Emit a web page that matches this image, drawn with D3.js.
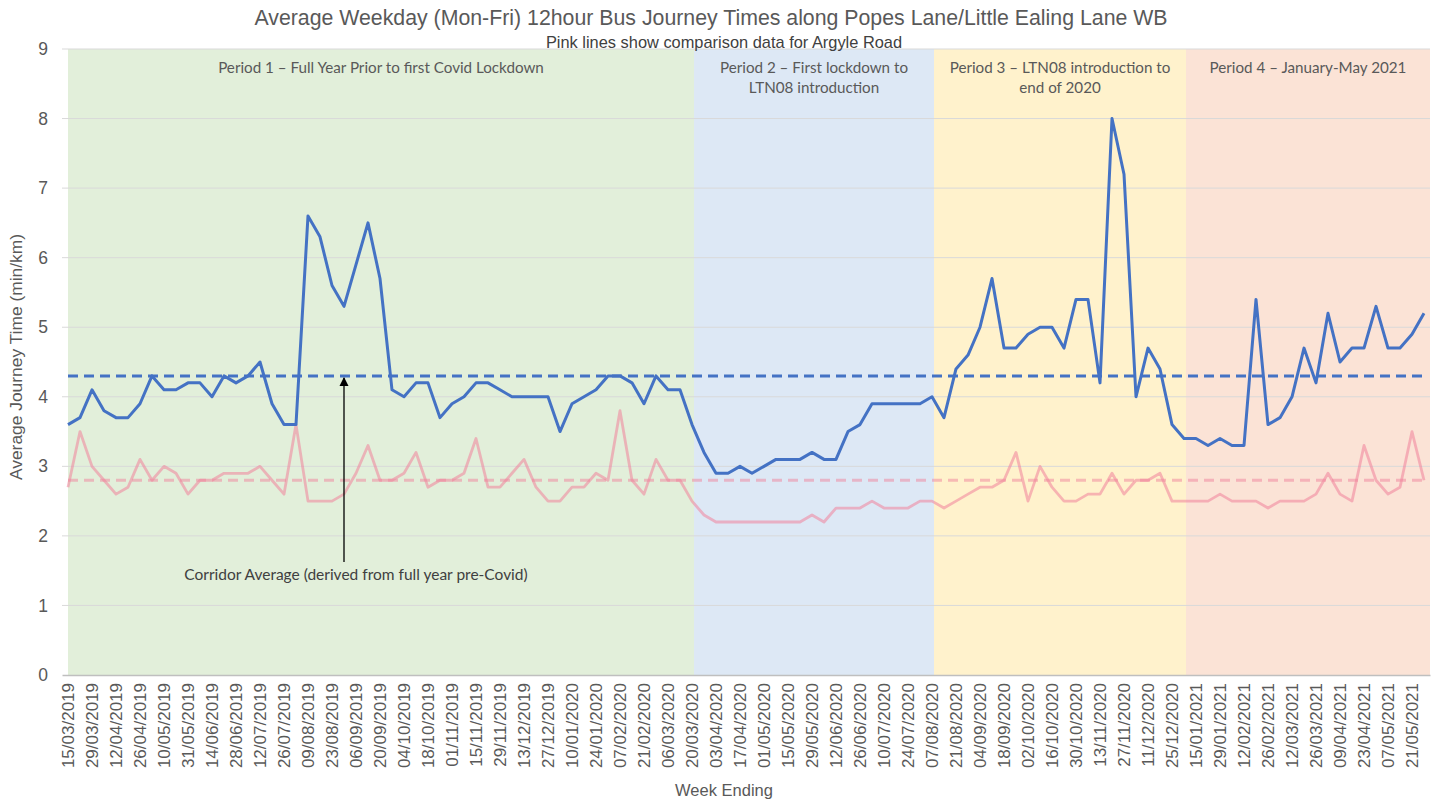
<!DOCTYPE html>
<html>
<head>
<meta charset="utf-8">
<script src="https://cdn.jsdelivr.net/npm/d3@7"></script>
<style>
  body { margin: 0; background: #fff; }
  svg { display: block; }
</style>
</head>
<body>
<div id="chart"></div>
<script>
// Data
const categories = [
  '15/03/2019', '22/03/2019', '29/03/2019', '05/04/2019', '12/04/2019', '19/04/2019', '26/04/2019', '03/05/2019',
  '10/05/2019', '17/05/2019', '31/05/2019', '07/06/2019', '14/06/2019', '21/06/2019', '28/06/2019', '05/07/2019',
  '12/07/2019', '19/07/2019', '26/07/2019', '02/08/2019', '09/08/2019', '16/08/2019', '23/08/2019', '30/08/2019',
  '06/09/2019', '13/09/2019', '20/09/2019', '27/09/2019', '04/10/2019', '11/10/2019', '18/10/2019', '25/10/2019',
  '01/11/2019', '08/11/2019', '15/11/2019', '22/11/2019', '29/11/2019', '06/12/2019', '13/12/2019', '20/12/2019',
  '27/12/2019', '03/01/2020', '10/01/2020', '17/01/2020', '24/01/2020', '31/01/2020', '07/02/2020', '14/02/2020',
  '21/02/2020', '28/02/2020', '06/03/2020', '13/03/2020', '20/03/2020', '27/03/2020', '03/04/2020', '10/04/2020',
  '17/04/2020', '24/04/2020', '01/05/2020', '08/05/2020', '15/05/2020', '22/05/2020', '29/05/2020', '05/06/2020',
  '12/06/2020', '19/06/2020', '26/06/2020', '03/07/2020', '10/07/2020', '17/07/2020', '24/07/2020', '31/07/2020',
  '07/08/2020', '14/08/2020', '21/08/2020', '28/08/2020', '04/09/2020', '11/09/2020', '18/09/2020', '25/09/2020',
  '02/10/2020', '09/10/2020', '16/10/2020', '23/10/2020', '30/10/2020', '06/11/2020', '13/11/2020', '20/11/2020',
  '27/11/2020', '04/12/2020', '11/12/2020', '18/12/2020', '25/12/2020', '08/01/2021', '15/01/2021', '22/01/2021',
  '29/01/2021', '05/02/2021', '12/02/2021', '19/02/2021', '26/02/2021', '05/03/2021', '12/03/2021', '19/03/2021',
  '26/03/2021', '02/04/2021', '09/04/2021', '16/04/2021', '23/04/2021', '30/04/2021', '07/05/2021', '14/05/2021',
  '21/05/2021', '28/05/2021'
];

// Popes Lane/Little Ealing Lane WB (min/km)
const popesLane = [
  3.6, 3.7, 4.1, 3.8, 3.7, 3.7, 3.9, 4.3, 4.1, 4.1, 4.2, 4.2, 4.0, 4.3, 4.2, 4.3,
  4.5, 3.9, 3.6, 3.6, 6.6, 6.3, 5.6, 5.3, 5.9, 6.5, 5.7, 4.1, 4.0, 4.2, 4.2, 3.7,
  3.9, 4.0, 4.2, 4.2, 4.1, 4.0, 4.0, 4.0, 4.0, 3.5, 3.9, 4.0, 4.1, 4.3, 4.3, 4.2,
  3.9, 4.3, 4.1, 4.1, 3.6, 3.2, 2.9, 2.9, 3.0, 2.9, 3.0, 3.1, 3.1, 3.1, 3.2, 3.1,
  3.1, 3.5, 3.6, 3.9, 3.9, 3.9, 3.9, 3.9, 4.0, 3.7, 4.4, 4.6, 5.0, 5.7, 4.7, 4.7,
  4.9, 5.0, 5.0, 4.7, 5.4, 5.4, 4.2, 8.0, 7.2, 4.0, 4.7, 4.4, 3.6, 3.4, 3.4, 3.3,
  3.4, 3.3, 3.3, 5.4, 3.6, 3.7, 4.0, 4.7, 4.2, 5.2, 4.5, 4.7, 4.7, 5.3, 4.7, 4.7,
  4.9, 5.2
];

// Argyle Road comparison (min/km)
const argyleRoad = [
  2.7, 3.5, 3.0, 2.8, 2.6, 2.7, 3.1, 2.8, 3.0, 2.9, 2.6, 2.8, 2.8, 2.9, 2.9, 2.9,
  3.0, 2.8, 2.6, 3.6, 2.5, 2.5, 2.5, 2.6, 2.9, 3.3, 2.8, 2.8, 2.9, 3.2, 2.7, 2.8,
  2.8, 2.9, 3.4, 2.7, 2.7, 2.9, 3.1, 2.7, 2.5, 2.5, 2.7, 2.7, 2.9, 2.8, 3.8, 2.8,
  2.6, 3.1, 2.8, 2.8, 2.5, 2.3, 2.2, 2.2, 2.2, 2.2, 2.2, 2.2, 2.2, 2.2, 2.3, 2.2,
  2.4, 2.4, 2.4, 2.5, 2.4, 2.4, 2.4, 2.5, 2.5, 2.4, 2.5, 2.6, 2.7, 2.7, 2.8, 3.2,
  2.5, 3.0, 2.7, 2.5, 2.5, 2.6, 2.6, 2.9, 2.6, 2.8, 2.8, 2.9, 2.5, 2.5, 2.5, 2.5,
  2.6, 2.5, 2.5, 2.5, 2.4, 2.5, 2.5, 2.5, 2.6, 2.9, 2.6, 2.5, 3.3, 2.8, 2.6, 2.7,
  3.5, 2.8
];

// Corridor averages (full year pre-Covid)
const popesAverage = 4.3;
const argyleAverage = 2.8;

// Periods
const periodLabels = [
  ['Period 1 \u2013 Full Year Prior to first Covid Lockdown'],
  ['Period 2 \u2013 First lockdown to', 'LTN08 introduction'],
  ['Period 3 \u2013 LTN08 introduction to', 'end of 2020'],
  ['Period 4 \u2013 January-May 2021']
];
const periodStarts = ['15/03/2019', '20/03/2020', '07/08/2020', '08/01/2021'];
const periodEnds = ['20/03/2020', '07/08/2020', '08/01/2021', null];
const periodColours = ['#e2efda', '#dde8f5', '#fff2cc', '#fbe3d6'];

const yTicks = [0, 1, 2, 3, 4, 5, 6, 7, 8, 9];

// Chart dimensions
const width = 1437;
const height = 805;
const margin = { top: 49, right: 7, bottom: 130, left: 62 };

const svg = d3.select('#chart')
  .append('svg')
  .attr('width', width)
  .attr('height', height);

// Scales
const xScale = d3.scaleBand()
  .domain(categories)
  .range([margin.left, width - margin.right])
  .padding(0);

const yScale = d3.scaleLinear()
  .domain([0, 9])
  .range([height - margin.bottom, margin.top]);

const xMid = d => xScale(d) + xScale.bandwidth() / 2;

// Period shading
periodLabels.forEach((lines, i) => {
  const x0 = xMid(periodStarts[i]);
  const x1 = periodEnds[i] ? xMid(periodEnds[i]) + 2 : xScale.range()[1];
  const xs = i > 0 ? x0 + 2 : x0;
  svg.append('rect')
    .attr('x', xs)
    .attr('y', yScale(9))
    .attr('width', x1 - xs)
    .attr('height', yScale(0) - yScale(9))
    .attr('fill', periodColours[i]);

  const label = svg.append('text')
    .attr('x', (xs + x1) / 2)
    .attr('y', 73)
    .attr('text-anchor', 'middle')
    .style('font-family', 'Lato, "Noto Sans", sans-serif')
    .style('font-size', '15.2px')
    .style('fill', '#595959');
  lines.forEach((line, j) => {
    label.append('tspan')
      .attr('x', (xs + x1) / 2)
      .attr('dy', j === 0 ? 0 : 20)
      .text(line);
  });
});

// Gridlines
svg.append('g')
  .selectAll('line')
  .data(yTicks.filter(d => d > 0))
  .enter()
  .append('line')
  .attr('x1', margin.left)
  .attr('x2', width - margin.right)
  .attr('y1', d => yScale(d))
  .attr('y2', d => yScale(d))
  .attr('stroke', '#d9d9d9')
  .attr('stroke-width', 1);

// Y axis
const yAxis = svg.append('g')
  .attr('class', 'y-axis')
  .attr('transform', `translate(${margin.left}, 0)`)
  .call(d3.axisLeft(yScale).tickValues(yTicks).tickSize(0).tickPadding(14));
yAxis.select('.domain').remove();
yAxis.selectAll('text')
  .style('font-family', '"Liberation Sans", Arial, sans-serif')
  .style('font-size', '17.5px')
  .style('fill', '#595959');

// X axis
const xAxis = svg.append('g')
  .attr('class', 'x-axis')
  .attr('transform', `translate(0, ${yScale(0)})`)
  .call(d3.axisBottom(xScale)
    .tickValues(categories.filter((d, i) => i % 2 === 0))
    .tickSize(0));
xAxis.select('.domain')
  .attr('stroke', '#bfbfbf')
  .attr('stroke-width', 1.5);
xAxis.selectAll('text')
  .attr('transform', 'translate(0, 8) rotate(-90)')
  .attr('x', 0)
  .attr('y', 0)
  .attr('dy', '0.35em')
  .attr('text-anchor', 'end')
  .style('font-family', '"Liberation Sans", Arial, sans-serif')
  .style('font-size', '17px')
  .style('fill', '#595959');

// Average lines
const avgLine = d3.line()
  .x(d => xMid(d.cat))
  .y(d => yScale(d.value));

svg.append('path')
  .datum(categories.map(c => ({ cat: c, value: argyleAverage })))
  .attr('d', avgLine)
  .attr('fill', 'none')
  .attr('stroke', 'rgb(240,130,155)')
  .attr('stroke-opacity', 0.5)
  .attr('stroke-width', 3)
  .attr('stroke-dasharray', '10,6');

svg.append('path')
  .datum(categories.map(c => ({ cat: c, value: popesAverage })))
  .attr('d', avgLine)
  .attr('fill', 'none')
  .attr('stroke', '#4472c4')
  .attr('stroke-width', 3)
  .attr('stroke-dasharray', '10,6');

// Series lines
const seriesLine = d3.line()
  .x((d, i) => xMid(categories[i]))
  .y(d => yScale(d));

svg.append('path')
  .datum(argyleRoad)
  .attr('d', seriesLine)
  .attr('fill', 'none')
  .attr('stroke', 'rgb(240,130,155)')
  .attr('stroke-opacity', 0.55)
  .attr('stroke-width', 2.8)
  .attr('stroke-linejoin', 'round');

svg.append('path')
  .datum(popesLane)
  .attr('d', seriesLine)
  .attr('fill', 'none')
  .attr('stroke', '#4472c4')
  .attr('stroke-width', 3)
  .attr('stroke-linejoin', 'round');

// Annotation arrow
svg.append('defs')
  .append('marker')
  .attr('id', 'arrow')
  .attr('viewBox', '0 0 10 10')
  .attr('refX', 9)
  .attr('refY', 5)
  .attr('markerWidth', 7)
  .attr('markerHeight', 7)
  .attr('orient', 'auto')
  .append('path')
  .attr('d', 'M0,0 L10,5 L0,10 Z')
  .attr('fill', '#000');

const arrowX = xMid(categories[23]);
svg.append('line')
  .attr('x1', arrowX)
  .attr('x2', arrowX)
  .attr('y1', 562)
  .attr('y2', yScale(popesAverage) + 2)
  .attr('stroke', '#000')
  .attr('stroke-width', 1.3)
  .attr('marker-end', 'url(#arrow)');

svg.append('text')
  .attr('x', 356)
  .attr('y', 580)
  .attr('text-anchor', 'middle')
  .style('font-family', 'Lato, "Noto Sans", sans-serif')
  .style('font-size', '15.5px')
  .style('fill', '#404040')
  .text('Corridor Average (derived from full year pre-Covid)');

// Titles
svg.append('text')
  .attr('x', 711)
  .attr('y', 25)
  .attr('text-anchor', 'middle')
  .style('font-family', '"Liberation Sans", Arial, sans-serif')
  .style('font-size', '21.3px')
  .style('fill', '#595959')
  .text('Average Weekday (Mon-Fri) 12hour Bus Journey Times along Popes Lane/Little Ealing Lane WB');

svg.append('text')
  .attr('x', 724)
  .attr('y', 47.5)
  .attr('text-anchor', 'middle')
  .style('font-family', '"Liberation Sans", Arial, sans-serif')
  .style('font-size', '16.4px')
  .style('fill', '#404040')
  .text('Pink lines show comparison data for Argyle Road');

svg.append('text')
  .attr('x', 724)
  .attr('y', 796)
  .attr('text-anchor', 'middle')
  .style('font-family', '"Liberation Sans", Arial, sans-serif')
  .style('font-size', '16.5px')
  .style('fill', '#595959')
  .text('Week Ending');

svg.append('text')
  .attr('transform', 'translate(22, 357) rotate(-90)')
  .attr('text-anchor', 'middle')
  .style('font-family', '"Liberation Sans", Arial, sans-serif')
  .style('font-size', '17.4px')
  .style('fill', '#595959')
  .text('Average Journey Time (min/km)');
</script>
</body>
</html>
